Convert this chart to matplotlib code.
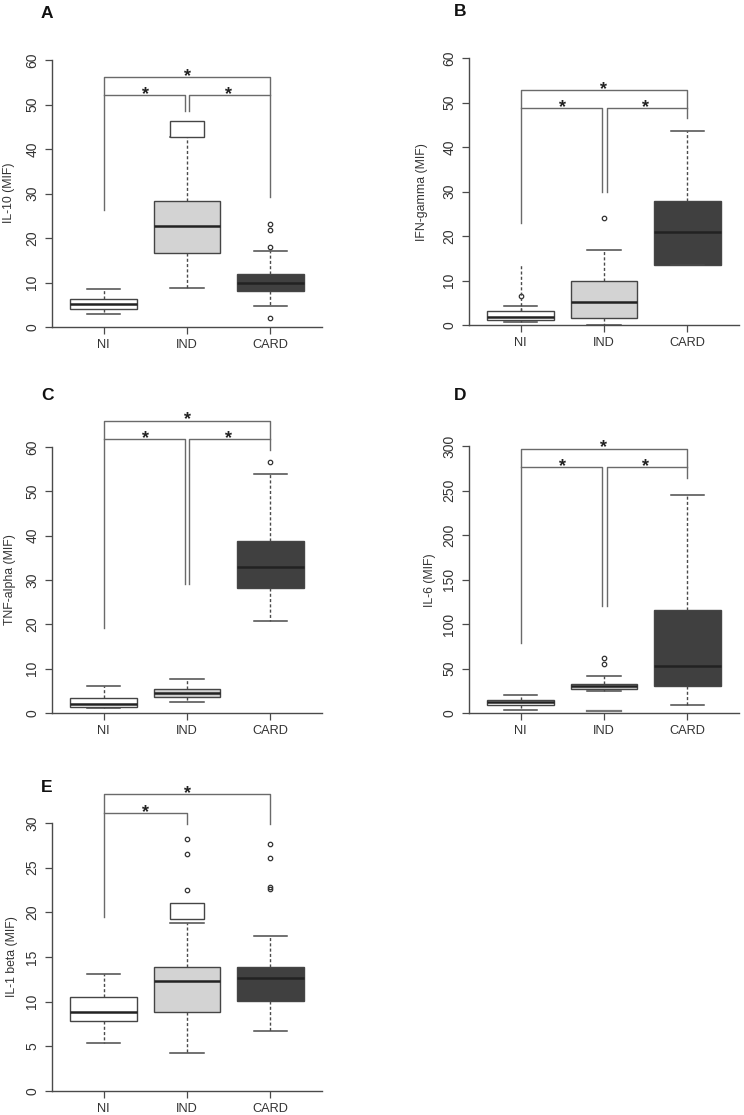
import matplotlib
matplotlib.use("Agg")
import matplotlib.pyplot as plt

plt.rcParams['font.family'] = ['Liberation Sans', 'DejaVu Sans']

GROUPS = ["NI", "IND", "CARD"]
PANEL_LETTERS = ["A", "B", "C", "D", "E"]
YLABELS = ["IL-10 (MIF)", "IFN-gamma (MIF)", "TNF-alpha (MIF)", "IL-6 (MIF)", "IL-1 beta (MIF)"]
YMAX = [60, 60, 60, 300, 30]
YSTEP = [10, 10, 10, 50, 5]

# box statistics per panel: [NI, IND, CARD]
WHISLO = [[3.0, 8.85, 4.65], [0.75, 0.0, 13.5], [1.1, 2.4, 20.85], [3.0, 24.3, 8.6], [5.4, 4.25, 6.75]]
Q1 = [[4.1, 16.65, 8.0], [1.1, 1.5, 13.5], [1.35, 3.5, 28.3], [9.35, 26.9, 29.9], [7.8, 8.8, 10.1]]
MED = [[5.1, 22.7, 9.8], [1.9, 5.1, 21.0], [2.1, 4.5, 33.0], [12.0, 29.9, 53.1], [8.85, 12.35, 12.7]]
Q3 = [[6.4, 28.35, 11.8], [3.2, 9.9, 27.9], [3.4, 5.4, 38.7], [14.2, 32.9, 116.0], [10.5, 13.9, 13.9]]
WHISHI = [[8.55, 42.6, 17.1], [4.35, 16.9, 43.7], [6.0, 7.65, 54.0], [20.6, 41.2, 245.0], [13.15, 18.8, 17.4]]
FLIERS = [
    [[], [], [2.0, 18.0, 21.75, 23.2]],
    [[6.5], [24.15], []],
    [[], [], [56.6]],
    [[], [55.0, 61.4], []],
    [[], [22.5, 26.5, 28.2], [22.6, 22.85, 26.1, 27.65]],
]

# significance brackets: top (NI-CARD) and lower (NI-IND, IND-CARD) levels, leg ends
BR_TOP = [56.25, 52.9, 65.85, 297.0, 33.25]
BR_LOW = [52.1, 48.75, 61.7, 276.5, 31.1]
LEG_NI = [26.4, 23.0, 19.1, 78.6, 19.5]
LEG_IND = [48.6, 30.0, 29.0, 119.7, 29.9]
LEG_CARD = [29.25, 46.5, 59.4, 264.5, 29.9]
STAR_TOP = [57.75, 54.4, 67.5, 305.0, 34.0]
STAR_LOW = [53.6, 50.25, 63.4, 284.0, 31.9]
HAS_IND_CARD = [True, True, True, True, False]

# extra marks present in the figure (overlaid pieces)
WHITE_BOX = [(2, 42.6, 46.2), None, None, None, (2, 19.2, 21.1)]
EXTRA_DOTTED = [None, (1, 3.2, 13.5), None, None, None]
EXTRA_CAP = [None, None, None, (2, 1.9), None]

# layout in pixels: left, right, top(ymax), bottom(0)
RECTS = [(52, 322, 60, 327), (469, 739, 58, 325), (52, 322, 447, 713),
         (469, 739, 446, 713), (52, 322, 823, 1091)]
LETTER_POS = [(47, 13), (460, 12), (47, 395), (460, 395), (47, 787)]
YLABEL_POS = [(9, 193), (422, 192), (10, 580), (430, 580), (12, 957)]

W, H = 744, 1115
FILLS = ["white", "#d3d3d3", "#404040"]
EDGE = "#454545"
LINEC = "#4a4a4a"
BRC = "#6a6a6a"
FS = 8.8

fig = plt.figure(figsize=(W / 100, H / 100), dpi=100)

for p in range(5):
    l, r, t, b = RECTS[p]
    ax = fig.add_axes([l / W, 1 - b / H, (r - l) / W, (b - t) / H])
    stats = []
    for g in range(3):
        stats.append(dict(med=MED[p][g], q1=Q1[p][g], q3=Q3[p][g],
                          whislo=WHISLO[p][g], whishi=WHISHI[p][g],
                          fliers=FLIERS[p][g], label=GROUPS[g]))
    bp = ax.bxp(stats, positions=[1, 2, 3], widths=0.8, capwidths=0.4,
                patch_artist=True, manage_ticks=False,
                boxprops=dict(edgecolor=EDGE, linewidth=1.0),
                whiskerprops=dict(color=LINEC, linewidth=1.0, linestyle=(0, (2.2, 1.6))),
                capprops=dict(color=LINEC, linewidth=1.1),
                medianprops=dict(color="#222222", linewidth=1.8),
                flierprops=dict(marker='o', markerfacecolor='none',
                                markeredgecolor='#333333', markersize=3.2,
                                markeredgewidth=0.9))
    for patch, fc in zip(bp['boxes'], FILLS):
        patch.set_facecolor(fc)

    # overlay pieces
    if WHITE_BOX[p] is not None:
        gx, y0, y1 = WHITE_BOX[p]
        ax.add_patch(plt.Rectangle((gx - 0.2, y0), 0.4, y1 - y0, facecolor='white',
                                   edgecolor=EDGE, linewidth=1.0, zorder=3))
    if EXTRA_DOTTED[p] is not None:
        gx, y0, y1 = EXTRA_DOTTED[p]
        ax.plot([gx, gx], [y0, y1], color=LINEC, lw=1.0, linestyle=(0, (2.2, 1.6)))
    if EXTRA_CAP[p] is not None:
        gx, yv = EXTRA_CAP[p]
        ax.plot([gx - 0.2, gx + 0.2], [yv, yv], color="#777777", lw=1.6)

    # brackets
    d = 0.03
    ax.plot([1, 1, 3, 3], [LEG_NI[p], BR_TOP[p], BR_TOP[p], LEG_CARD[p]],
            color=BRC, lw=1.0, clip_on=False)
    if HAS_IND_CARD[p]:
        ax.plot([1, 2 - d, 2 - d], [BR_LOW[p], BR_LOW[p], LEG_IND[p]],
                color=BRC, lw=1.0, clip_on=False)
        ax.plot([2 + d, 2 + d, 3], [LEG_IND[p], BR_LOW[p], BR_LOW[p]],
                color=BRC, lw=1.0, clip_on=False)
        star_x = [1.5, 2.5]
    else:
        ax.plot([1, 2, 2], [BR_LOW[p], BR_LOW[p], LEG_IND[p]],
                color=BRC, lw=1.0, clip_on=False)
        star_x = [1.5]
    sfs = 13
    ax.annotate('*', (2, STAR_TOP[p]), xytext=(0, -0.6 * sfs), textcoords='offset points',
                ha='center', va='baseline', fontsize=sfs, fontweight='bold',
                color='#222222', annotation_clip=False)
    for sx in star_x:
        ax.annotate('*', (sx, STAR_LOW[p]), xytext=(0, -0.6 * sfs), textcoords='offset points',
                    ha='center', va='baseline', fontsize=sfs, fontweight='bold',
                    color='#222222', annotation_clip=False)

    ax.set_xlim(0.38, 3.62)
    ax.set_ylim(0, YMAX[p])
    ax.set_xticks([1, 2, 3])
    ax.set_xticklabels(GROUPS)
    ax.set_yticks(range(0, YMAX[p] + 1, YSTEP[p]))
    ax.tick_params(axis='y', labelrotation=90, length=5, width=0.9, color=LINEC,
                   labelsize=10, labelcolor='#333333', pad=4)
    for lab in ax.get_yticklabels():
        lab.set_verticalalignment('center')
    ax.tick_params(axis='x', length=5, width=0.9, color=LINEC, labelsize=9.2,
                   labelcolor='#333333', pad=4)
    for s in ['top', 'right']:
        ax.spines[s].set_visible(False)
    for s in ['left', 'bottom']:
        ax.spines[s].set_color(LINEC)
        ax.spines[s].set_linewidth(1.0)
    ax.patch.set_alpha(0)

    lx, ly = LETTER_POS[p]
    fig.text(lx / W, 1 - ly / H, PANEL_LETTERS[p], fontsize=12.5, fontweight='bold',
             ha='center', va='center', color='#111111')
    yx, yy = YLABEL_POS[p]
    fig.text(yx / W, 1 - yy / H, YLABELS[p], rotation=90, fontsize=FS,
             ha='center', va='center', color='#333333')

fig.savefig("out.png", dpi=100)
